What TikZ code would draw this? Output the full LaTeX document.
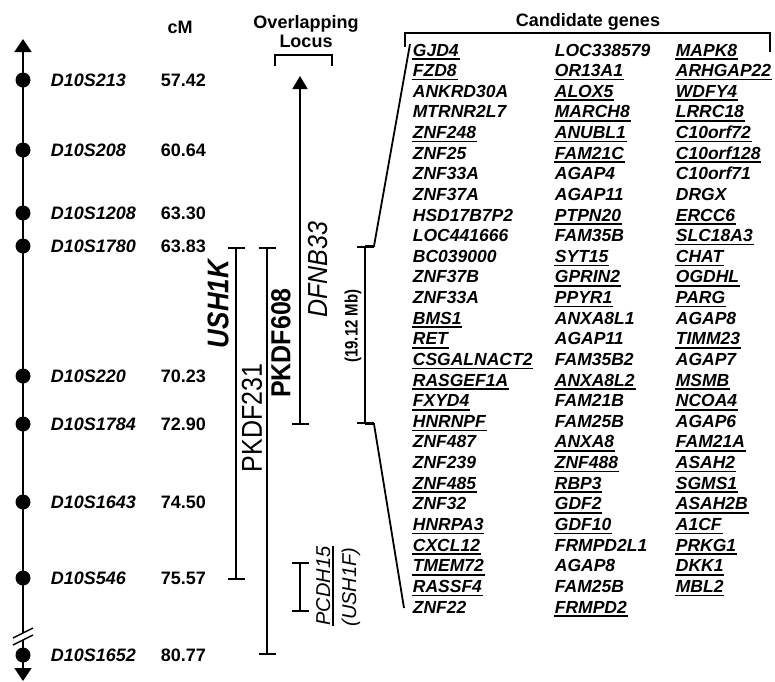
\documentclass[tikz,border=0pt]{standalone}
\usepackage{fontspec}
\setmainfont{Liberation Sans}
\usetikzlibrary{arrows.meta}
\begin{document}
\begin{tikzpicture}[x=1pt,y=-1pt,line width=1.8pt,
  gene/.style={anchor=base west,inner sep=0pt,font=\fontsize{17.5}{17.5}\selectfont\bfseries\itshape},
  uline/.style={line width=1.6pt},
  mk/.style={anchor=west,inner sep=0pt,font=\fontsize{18}{18}\selectfont\bfseries\itshape},
  cmv/.style={anchor=west,inner sep=0pt,font=\fontsize{18}{18}\selectfont\bfseries},
  dot/.style={circle,fill=black,inner sep=0pt,minimum size=15pt},
  hdr/.style={anchor=base,inner sep=0pt,font=\fontsize{18}{18}\selectfont\bfseries},
  rot/.style={rotate=90,inner sep=0pt},
  barline/.style={{Bar[width=17pt]}-{Bar[width=17pt]}},
]
\useasboundingbox (0,0) rectangle (775,681);
% axis
\coordinate (axT) at (23,39);
\coordinate (axB1) at (23,633);
\coordinate (axB2) at (23,640);
\coordinate (axE) at (23,681);
\draw[-{Triangle[width=17pt,length=13pt]}] (axB1) -- (axT);
\draw[-{Triangle[width=17pt,length=13pt]}] (axB2) -- (axE);
\coordinate (s1a) at (13,638); \coordinate (s1b) at (33,628);
\coordinate (s2a) at (13,645); \coordinate (s2b) at (33,635);
\draw[line width=1.5pt] (s1a) -- (s1b);
\draw[line width=1.5pt] (s2a) -- (s2b);
% markers
\foreach \nm/\val/\yy [count=\k] in {D10S213/57.42/80,D10S208/60.64/150,D10S1208/63.30/213,D10S1780/63.83/246,D10S220/70.23/376,D10S1784/72.90/424,D10S1643/74.50/502,D10S546/75.57/578,D10S1652/80.77/655}{
  \node[dot] (d\k) at (23,\yy) {};
  \node[mk] (m\k) at (50,\yy) {\nm};
  \node[cmv] (c\k) at (160,\yy) {\val};
}
% headers
\node[hdr] (cmh) at (180,33) {cM};
\node[hdr] (ov) at (306,28) {Overlapping};
\node[hdr] (lo) at (306,47) {Locus};
\node[hdr] (cg) at (588,26) {Candidate genes};
% overlapping locus bracket
\draw (275,66) -- (275,55) -- (332,55) -- (332,66);
% loci bars
\coordinate (ushT) at (236,247); \coordinate (ushB) at (236,580);
\draw[barline] (ushT) -- (ushB);
\coordinate (p231T) at (267,247); \coordinate (p231B) at (267,655);
\draw[barline] (p231T) -- (p231B);
\coordinate (p608B) at (300,425); \coordinate (dfT) at (300,76);
\draw[{Bar[width=17pt]}-{Triangle[width=15pt,length=13pt]}] (p608B) -- (dfT);
\coordinate (mbT) at (365,246); \coordinate (mbB) at (365,424);
\draw[barline] (mbT) -- (mbB);
\coordinate (mbTr) at (374,246); \coordinate (mbBr) at (374,424);
\coordinate (cgTop) at (410,44); \coordinate (cgBot) at (404,608);
\draw (mbT) -- (mbTr) -- (cgTop);
\draw (mbB) -- (mbBr) -- (cgBot);
\coordinate (pcT) at (300,562); \coordinate (pcB) at (300,612);
\draw[barline] (pcT) -- (pcB);
% candidate genes bracket
\draw (405,47) -- (405,33) -- (770,33) -- (770,52);
% rotated labels
\node[rot,font=\fontsize{26}{26}\selectfont\bfseries\itshape] (ush) at (218,304) {\scalebox{1}[1.15]{USH1K}};
\node[rot,font=\fontsize{25}{25}\selectfont] (p231) at (252,418) {\scalebox{1}[1.15]{PKDF231}};
\node[rot,font=\fontsize{25}{25}\selectfont\bfseries] (p608) at (281,343) {\scalebox{1}[1.1]{PKDF608}};
\node[rot,font=\fontsize{25}{25}\selectfont\itshape] (dfnb) at (318,270) {\scalebox{1}[1.1]{DFNB33}};
\node[rot,font=\fontsize{15}{15}\selectfont\bfseries] (mb) at (353,326) {\scalebox{1}[1.2]{(19.12 Mb)}};
\node[rot,anchor=base,font=\fontsize{20}{20}\selectfont\itshape] (pc) at (330,586) {PCDH15};
\node[rot,anchor=base,font=\fontsize{20}{20}\selectfont\itshape] (usf) at (356,587) {(USH1F)};
\draw[line width=1.5pt] ([xshift=3pt]pc.base west) -- ([xshift=3pt]pc.base east);
% genes
\foreach \gn/\ul [count=\k from 0] in {GJD4/1,FZD8/1,ANKRD30A/0,MTRNR2L7/0,ZNF248/1,ZNF25/0,ZNF33A/0,ZNF37A/0,HSD17B7P2/0,LOC441666/0,BC039000/0,ZNF37B/0,ZNF33A/0,BMS1/1,RET/1,CSGALNACT2/1,RASGEF1A/1,FXYD4/1,HNRNPF/1,ZNF487/0,ZNF239/0,ZNF485/1,ZNF32/0,HNRPA3/1,CXCL12/1,TMEM72/1,RASSF4/1,ZNF22/0}{
  \node[gene] (ga\k) at (412,{56+\k*20.63}) {\gn};
  \ifnum\ul=1 \draw[uline] ([yshift=-3pt]ga\k.base west) -- ([yshift=-3pt]ga\k.base east);\fi
}
\foreach \gn/\ul [count=\k from 0] in {LOC338579/0,OR13A1/1,ALOX5/1,MARCH8/1,ANUBL1/1,FAM21C/1,AGAP4/0,AGAP11/0,PTPN20/1,FAM35B/0,SYT15/1,GPRIN2/1,PPYR1/1,ANXA8L1/0,AGAP11/0,FAM35B2/0,ANXA8L2/1,FAM21B/0,FAM25B/0,ANXA8/1,ZNF488/1,RBP3/1,GDF2/1,GDF10/1,FRMPD2L1/0,AGAP8/0,FAM25B/0,FRMPD2/1}{
  \node[gene] (gb\k) at (554,{56+\k*20.63}) {\gn};
  \ifnum\ul=1 \draw[uline] ([yshift=-3pt]gb\k.base west) -- ([yshift=-3pt]gb\k.base east);\fi
}
\foreach \gn/\ul [count=\k from 0] in {MAPK8/1,ARHGAP22/1,WDFY4/1,LRRC18/1,C10orf72/1,C10orf128/1,C10orf71/0,DRGX/0,ERCC6/1,SLC18A3/1,CHAT/1,OGDHL/1,PARG/1,AGAP8/0,TIMM23/1,AGAP7/0,MSMB/1,NCOA4/1,AGAP6/0,FAM21A/1,ASAH2/1,SGMS1/1,ASAH2B/1,A1CF/1,PRKG1/1,DKK1/1,MBL2/1}{
  \node[gene] (gc\k) at (675,{56+\k*20.63}) {\gn};
  \ifnum\ul=1 \draw[uline] ([yshift=-3pt]gc\k.base west) -- ([yshift=-3pt]gc\k.base east);\fi
}
\end{tikzpicture}
\end{document}
